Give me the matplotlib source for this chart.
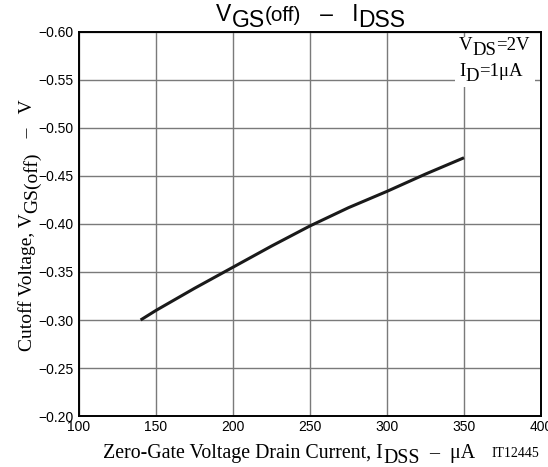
import numpy as np
import matplotlib
matplotlib.use("Agg")
import matplotlib.pyplot as plt
from matplotlib.patches import Rectangle
from matplotlib.transforms import offset_copy

plt.rcParams['font.family'] = ['Liberation Sans', 'DejaVu Sans']

# I_DSS (uA) vs cutoff voltage V_GS(off) (V)
idss = [140, 150, 175, 200, 225, 250, 275, 300, 325, 350]
vgs_off = [-0.300, -0.310, -0.333, -0.355, -0.377, -0.398, -0.417, -0.434, -0.452, -0.469]

xticks = [100, 150, 200, 250, 300, 350, 400]
yticks = [-0.60, -0.55, -0.50, -0.45, -0.40, -0.35, -0.30, -0.25, -0.20]

MINUS = '\u2212'
DASH = '\u2013'
MU = '\u03bc'


def rich_text(fig, x, y, parts, size, family, rotation=0, ha='center'):
    """Draw text with lowered/raised runs; parts = (text, shift, scale),
    shift is in units of the font size (positive = down)."""
    r = fig.canvas.get_renderer()
    widths = []
    for s, shift, scale in parts:
        fs = size * scale
        a = fig.text(0, 0, 'x' + s + 'x', fontsize=fs, family=family)
        b = fig.text(0, 0, 'xx', fontsize=fs, family=family)
        widths.append(a.get_window_extent(r).width - b.get_window_extent(r).width)
        a.remove()
        b.remove()
    total = sum(widths)
    pos = {'center': -total / 2, 'right': -total, 'left': 0}[ha]
    for (s, shift, scale), w in zip(parts, widths):
        d = shift * size * fig.dpi / 72
        if rotation == 90:
            tr = offset_copy(fig.transFigure, fig=fig, x=d, y=pos, units='dots')
        else:
            tr = offset_copy(fig.transFigure, fig=fig, x=pos, y=-d, units='dots')
        fig.text(x, y, s, transform=tr, fontsize=size * scale, family=family,
                 rotation=rotation, rotation_mode='anchor', ha='left', va='baseline')
        pos += w


fig = plt.figure(figsize=(5.48, 4.67), dpi=100)
ax = fig.add_axes([0.1442, 0.1092, 0.843, 0.8223])

ax.plot(idss, vgs_off, color='#1a1a1a', lw=2.2, solid_capstyle='butt', zorder=3)

ax.set_xlim(100, 400)
ax.set_ylim(-0.20, -0.60)
ax.set_xticks(xticks)
ax.set_yticks(yticks)
ax.set_xticklabels([str(v) for v in xticks], fontsize=10)
ax.set_yticklabels([MINUS + '%.2f' % abs(v) for v in yticks], fontsize=10)
ax.tick_params(length=0)
ax.tick_params(axis='x', pad=3)
ax.tick_params(axis='y', pad=4)
ax.grid(True, color='#7a7a7a', lw=1.0)
for s in ax.spines.values():
    s.set_linewidth(1.4)
    s.set_color('black')

# white box behind the test conditions
ax.add_patch(Rectangle((455 / 548, 1 - 87 / 467), 80 / 548, 50 / 467,
                       transform=fig.transFigure, facecolor='white',
                       edgecolor='none', zorder=2.5))

fig.canvas.draw()

serif = 'Liberation Serif'
rich_text(fig, 289 / 548, 1 - 458 / 467,
          [('Zero-Gate Voltage Drain Current, I', 0, 1), ('DSS', 0.25, 1),
           ('  ' + DASH + '  ' + MU + 'A', 0, 1)], 14.3, serif)
fig.text(515 / 548, 1 - 457 / 467, 'IT12445', family=serif, fontsize=10,
         ha='center', va='baseline')

rich_text(fig, 32 / 548, 1 - 225 / 467,
          [('Cutoff Voltage, V', 0, 1), ('GS(off)', 0.25, 1),
           ('   ' + DASH + '   V', 0, 1)], 14, serif, rotation=90)

rich_text(fig, 311 / 548, 1 - 21 / 467,
          [('V', 0, 1), ('GS', 0.25, 1), ('(off)', 0, 0.9),
           ('   ' + DASH + '   I', 0, 1), ('DSS', 0.25, 1)], 16.5, 'Liberation Sans')

rich_text(fig, 459 / 548, 1 - 50 / 467,
          [('V', 0, 1), ('DS', 0.25, 1), ('=2V', 0, 1)], 13.5, serif, ha='left')
rich_text(fig, 459 / 548, 1 - 76 / 467,
          [('I', 0, 1), ('D', 0.25, 1), ('=1' + MU + 'A', 0, 1)], 13.5, serif, ha='left')

fig.savefig('out.png', dpi=100)
